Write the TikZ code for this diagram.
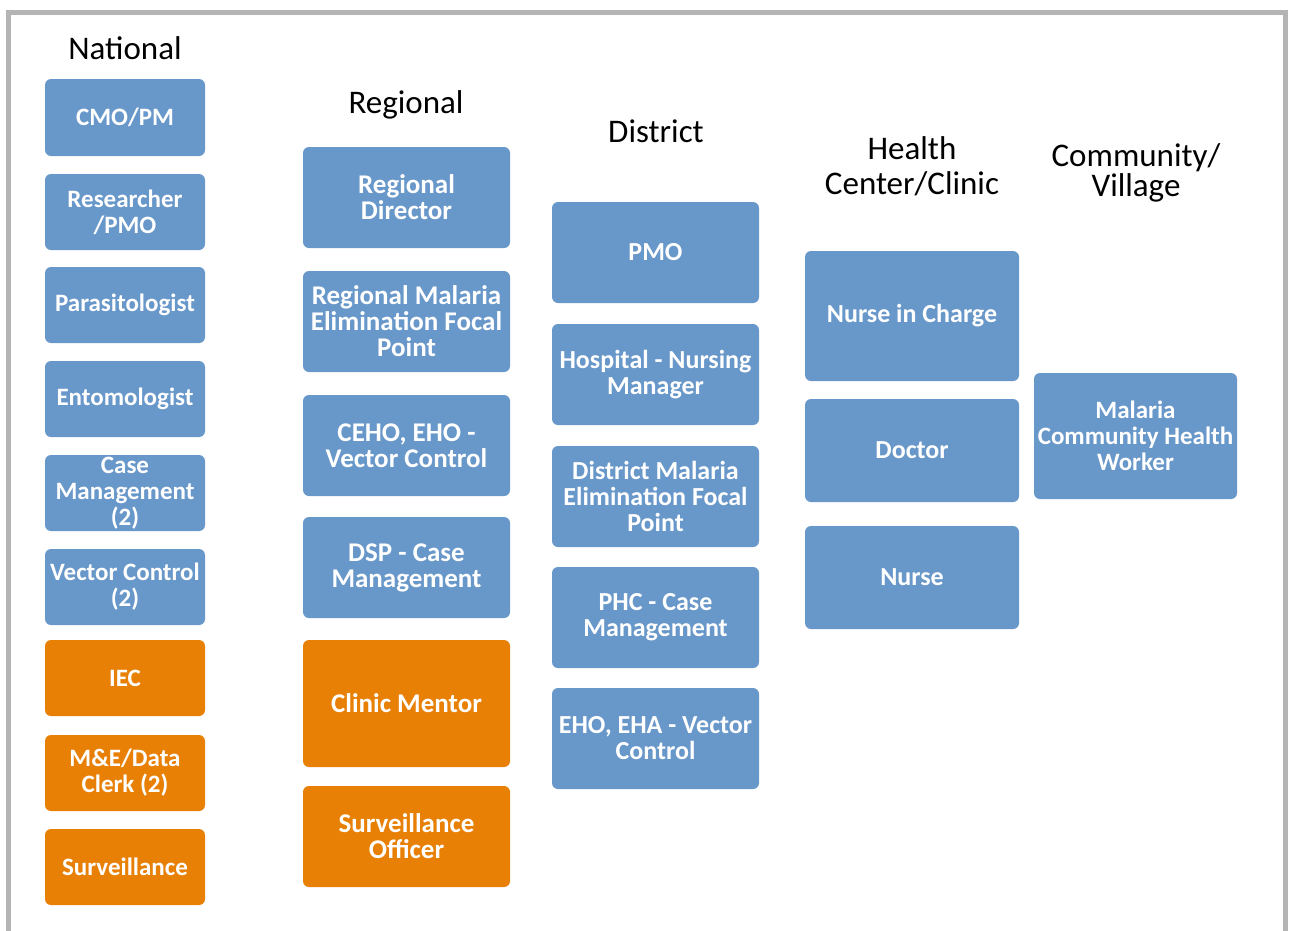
\documentclass[tikz,border=0pt]{standalone}
\usepackage{fontspec}
\setmainfont{Carlito}
\definecolor{boxblue}{RGB}{104,151,201}
\definecolor{boxorange}{RGB}{232,128,6}
\definecolor{framegray}{RGB}{180,180,180}
\tikzset{
  bx/.style={rounded corners=6pt, inner sep=0pt, align=center, text=white},
  fs/.style={font=\fontsize{#1}{26}\selectfont\bfseries},
  bb/.style={bx, fill=boxblue},
  bo/.style={bx, fill=boxorange},
  hdr/.style={anchor=base, inner sep=0pt, font=\fontsize{33}{33}\selectfont},
}
\newcommand{\bxat}[7]{% style, name, x1, y1, x2, y2, text
  \node[#1, minimum width={(#5)-(#3)}, minimum height={(#6)-(#4)}] (#2) at ({((#3)+(#5))/2},{((#4)+(#6))/2}) {#7};}
\begin{document}
\begin{tikzpicture}[x=1pt,y=-1pt]
\useasboundingbox (0,0) rectangle (1291,930);
\clip (0,0) rectangle (1291,930);
\draw[framegray, line width=5pt] (8,12) rectangle (1285,960);
% headers
\node[hdr] (hNat) at (125,59) {National};
\node[hdr] (hReg) at (406,113) {Regional};
\node[hdr] (hDis) at (656,142) {District};
\node[hdr, align=center, font=\fontsize{33}{35}\selectfont] (hHC) at (912,194) {Health\\Center/Clinic};
\node[hdr, align=center, font=\fontsize{33}{28}\selectfont] (hCom) at (1136,196) {Community/\\Village};
% National
\bxat{bb,fs=25}{n1}{45}{79}{205}{156}{CMO/PM}
\bxat{bb,fs=25}{n2}{45}{174}{205}{250}{Researcher\\/PMO}
\bxat{bb,fs=25}{n3}{45}{267}{205}{343}{Parasitologist}
\bxat{bb,fs=25}{n4}{45}{361}{205}{437}{Entomologist}
\bxat{bb,fs=25}{n5}{45}{455}{205}{531}{Case\\Management\\(2)}
\bxat{bb,fs=25}{n6}{45}{549}{205}{625}{Vector Control\\(2)}
\bxat{bo,fs=25}{n7}{45}{640}{205}{716}{IEC}
\bxat{bo,fs=25}{n8}{45}{735}{205}{811}{M\&E/Data\\Clerk (2)}
\bxat{bo,fs=25}{n9}{45}{829}{205}{905}{Surveillance}
% Regional
\bxat{bb,fs=27}{r1}{303}{147}{510}{248}{Regional\\Director}
\bxat{bb,fs=27}{r2}{303}{271}{510}{372}{Regional Malaria\\Elimination Focal\\Point}
\bxat{bb,fs=27}{r3}{303}{395}{510}{496}{CEHO, EHO -\\Vector Control}
\bxat{bb,fs=27}{r4}{303}{517}{510}{618}{DSP - Case\\Management}
\bxat{bo,fs=27}{r5}{303}{640}{510}{767}{Clinic Mentor}
\bxat{bo,fs=27}{r6}{303}{786}{510}{887}{Surveillance\\Officer}
% District
\bxat{bb,fs=26}{d1}{552}{202}{759}{303}{PMO}
\bxat{bb,fs=26}{d2}{552}{324}{759}{425}{Hospital - Nursing\\Manager}
\bxat{bb,fs=26}{d3}{552}{446}{759}{547}{District Malaria\\Elimination Focal\\Point}
\bxat{bb,fs=26}{d4}{552}{567}{759}{668}{PHC - Case\\Management}
\bxat{bb,fs=26}{d5}{552}{688}{759}{789}{EHO, EHA - Vector\\Control}
% Health Center
\bxat{bb,fs=26}{h1}{805}{251}{1019}{381}{Nurse in Charge}
\bxat{bb,fs=26}{h2}{805}{399}{1019}{502}{Doctor}
\bxat{bb,fs=26}{h3}{805}{526}{1019}{629}{Nurse}
% Community
\bxat{bb,fs=25}{c1}{1034}{373}{1237}{499}{Malaria\\Community Health\\Worker}
\end{tikzpicture}
\end{document}
